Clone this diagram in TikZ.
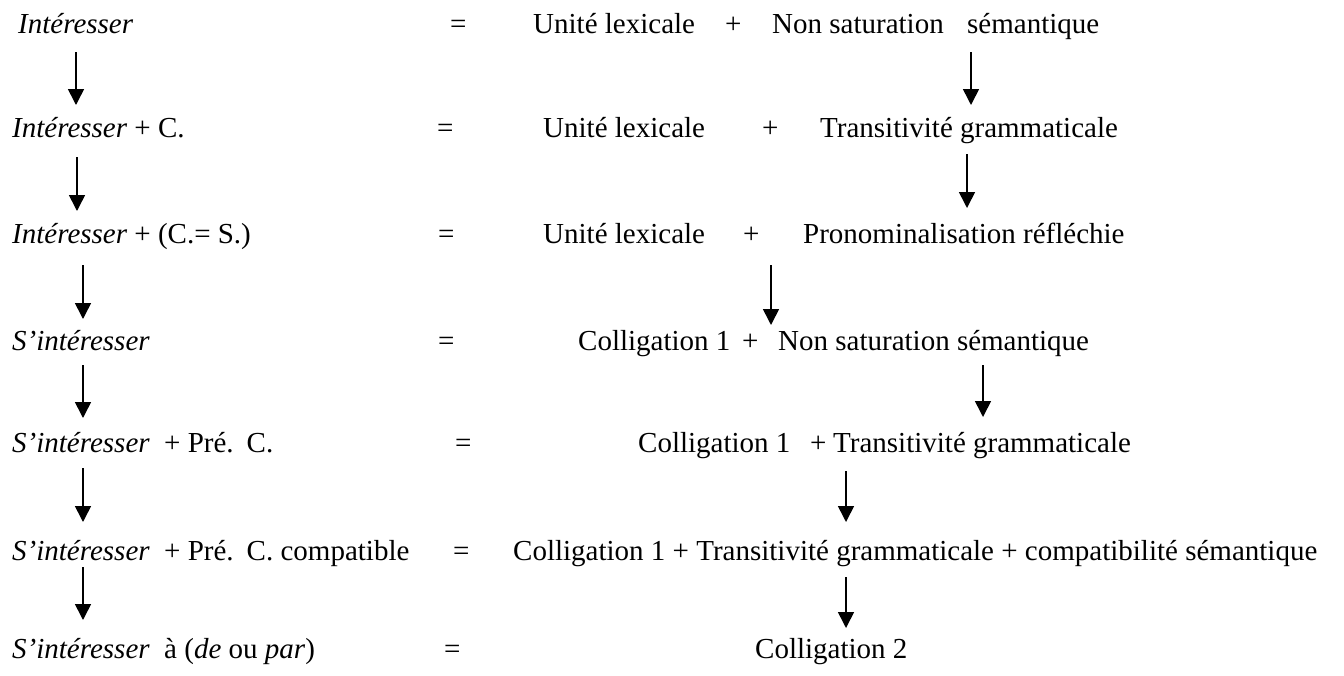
\documentclass[tikz,border=0pt]{standalone}
\usepackage{fontspec}
\setmainfont{Liberation Serif}
\usetikzlibrary{arrows.meta}

\begin{document}
\begin{tikzpicture}[x=1pt,y=-1pt,
  txt/.style={anchor=base west,inner sep=0pt,font=\fontsize{29}{34}\selectfont},
  arr/.style={line width=1.6pt,-{Triangle[width=16pt,length=16pt]}}]
\useasboundingbox (0,0) rectangle (1344,675);

% left column: derivation steps
\node[txt] (l1) at (18,33)  {\textit{Intéresser}};
\node[txt] (l2) at (12,137) {\textit{Intéresser} + C.};
\node[txt] (l3) at (12,243) {\textit{Intéresser} + (C.= S.)};
\node[txt] (l4) at (12,350) {\textit{S’intéresser}};
\node[txt] (l5) at (12,452) {\textit{S’intéresser}\ \ + Pré.\hspace{13pt}C.};
\node[txt] (l6) at (12,560) {\textit{S’intéresser}\ \ + Pré.\hspace{13pt}C. compatible};
\node[txt] (l7) at (12,658) {\textit{S’intéresser}\ \ à (\textit{de} ou \textit{par})};

% equals signs
\node[txt] (e1) at (450,33)  {=};
\node[txt] (e2) at (437,137) {=};
\node[txt] (e3) at (438,243) {=};
\node[txt] (e4) at (438,350) {=};
\node[txt] (e5) at (455,452) {=};
\node[txt] (e6) at (453,560) {=};
\node[txt] (e7) at (444,658) {=};

% right column: components
\node[txt] (r1a) at (533,33) {Unité lexicale};
\node[txt] (r1b) at (725,33) {+};
\node[txt] (r1c) at (772,33) {Non saturation};
\node[txt] (r1d) at (967,33) {sémantique};

\node[txt] (r2a) at (543,137) {Unité lexicale};
\node[txt] (r2b) at (762,137) {+};
\node[txt] (r2c) at (820,137) {Transitivité grammaticale};

\node[txt] (r3a) at (543,243) {Unité lexicale};
\node[txt] (r3b) at (743,243) {+};
\node[txt] (r3c) at (803,243) {Pronominalisation réfléchie};

\node[txt] (r4a) at (578,350) {Colligation 1};
\node[txt] (r4b) at (742,350) {+};
\node[txt] (r4c) at (778,350) {Non saturation sémantique};

\node[txt] (r5a) at (638,452) {Colligation 1};
\node[txt] (r5b) at (810,452) {+};
\node[txt] (r5c) at (833,452) {Transitivité grammaticale};

\node[txt] (r6) at (513,560) {Colligation 1 + Transitivité grammaticale + compatibilité sémantique};

\node[txt] (r7) at (755,658) {Colligation 2};

% arrow end points
\coordinate (la1s) at (76,52);  \coordinate (la1e) at (76,105);
\coordinate (la2s) at (77,157); \coordinate (la2e) at (77,211);
\coordinate (la3s) at (83,265); \coordinate (la3e) at (83,319);
\coordinate (la4s) at (83,365); \coordinate (la4e) at (83,418);
\coordinate (la5s) at (83,468); \coordinate (la5e) at (83,522);
\coordinate (la6s) at (83,567); \coordinate (la6e) at (83,620);

\coordinate (ra1s) at (971,52);  \coordinate (ra1e) at (971,105);
\coordinate (ra2s) at (967,154); \coordinate (ra2e) at (967,208);
\coordinate (ra3s) at (771,265); \coordinate (ra3e) at (771,325);
\coordinate (ra4s) at (983,365); \coordinate (ra4e) at (983,417);
\coordinate (ra5s) at (846,471); \coordinate (ra5e) at (846,522);
\coordinate (ra6s) at (846,577); \coordinate (ra6e) at (846,628);

% arrows
\foreach \i in {1,...,6}{
  \draw[arr] (la\i s) -- (la\i e);
  \draw[arr] (ra\i s) -- (ra\i e);
}
\end{tikzpicture}
\end{document}
